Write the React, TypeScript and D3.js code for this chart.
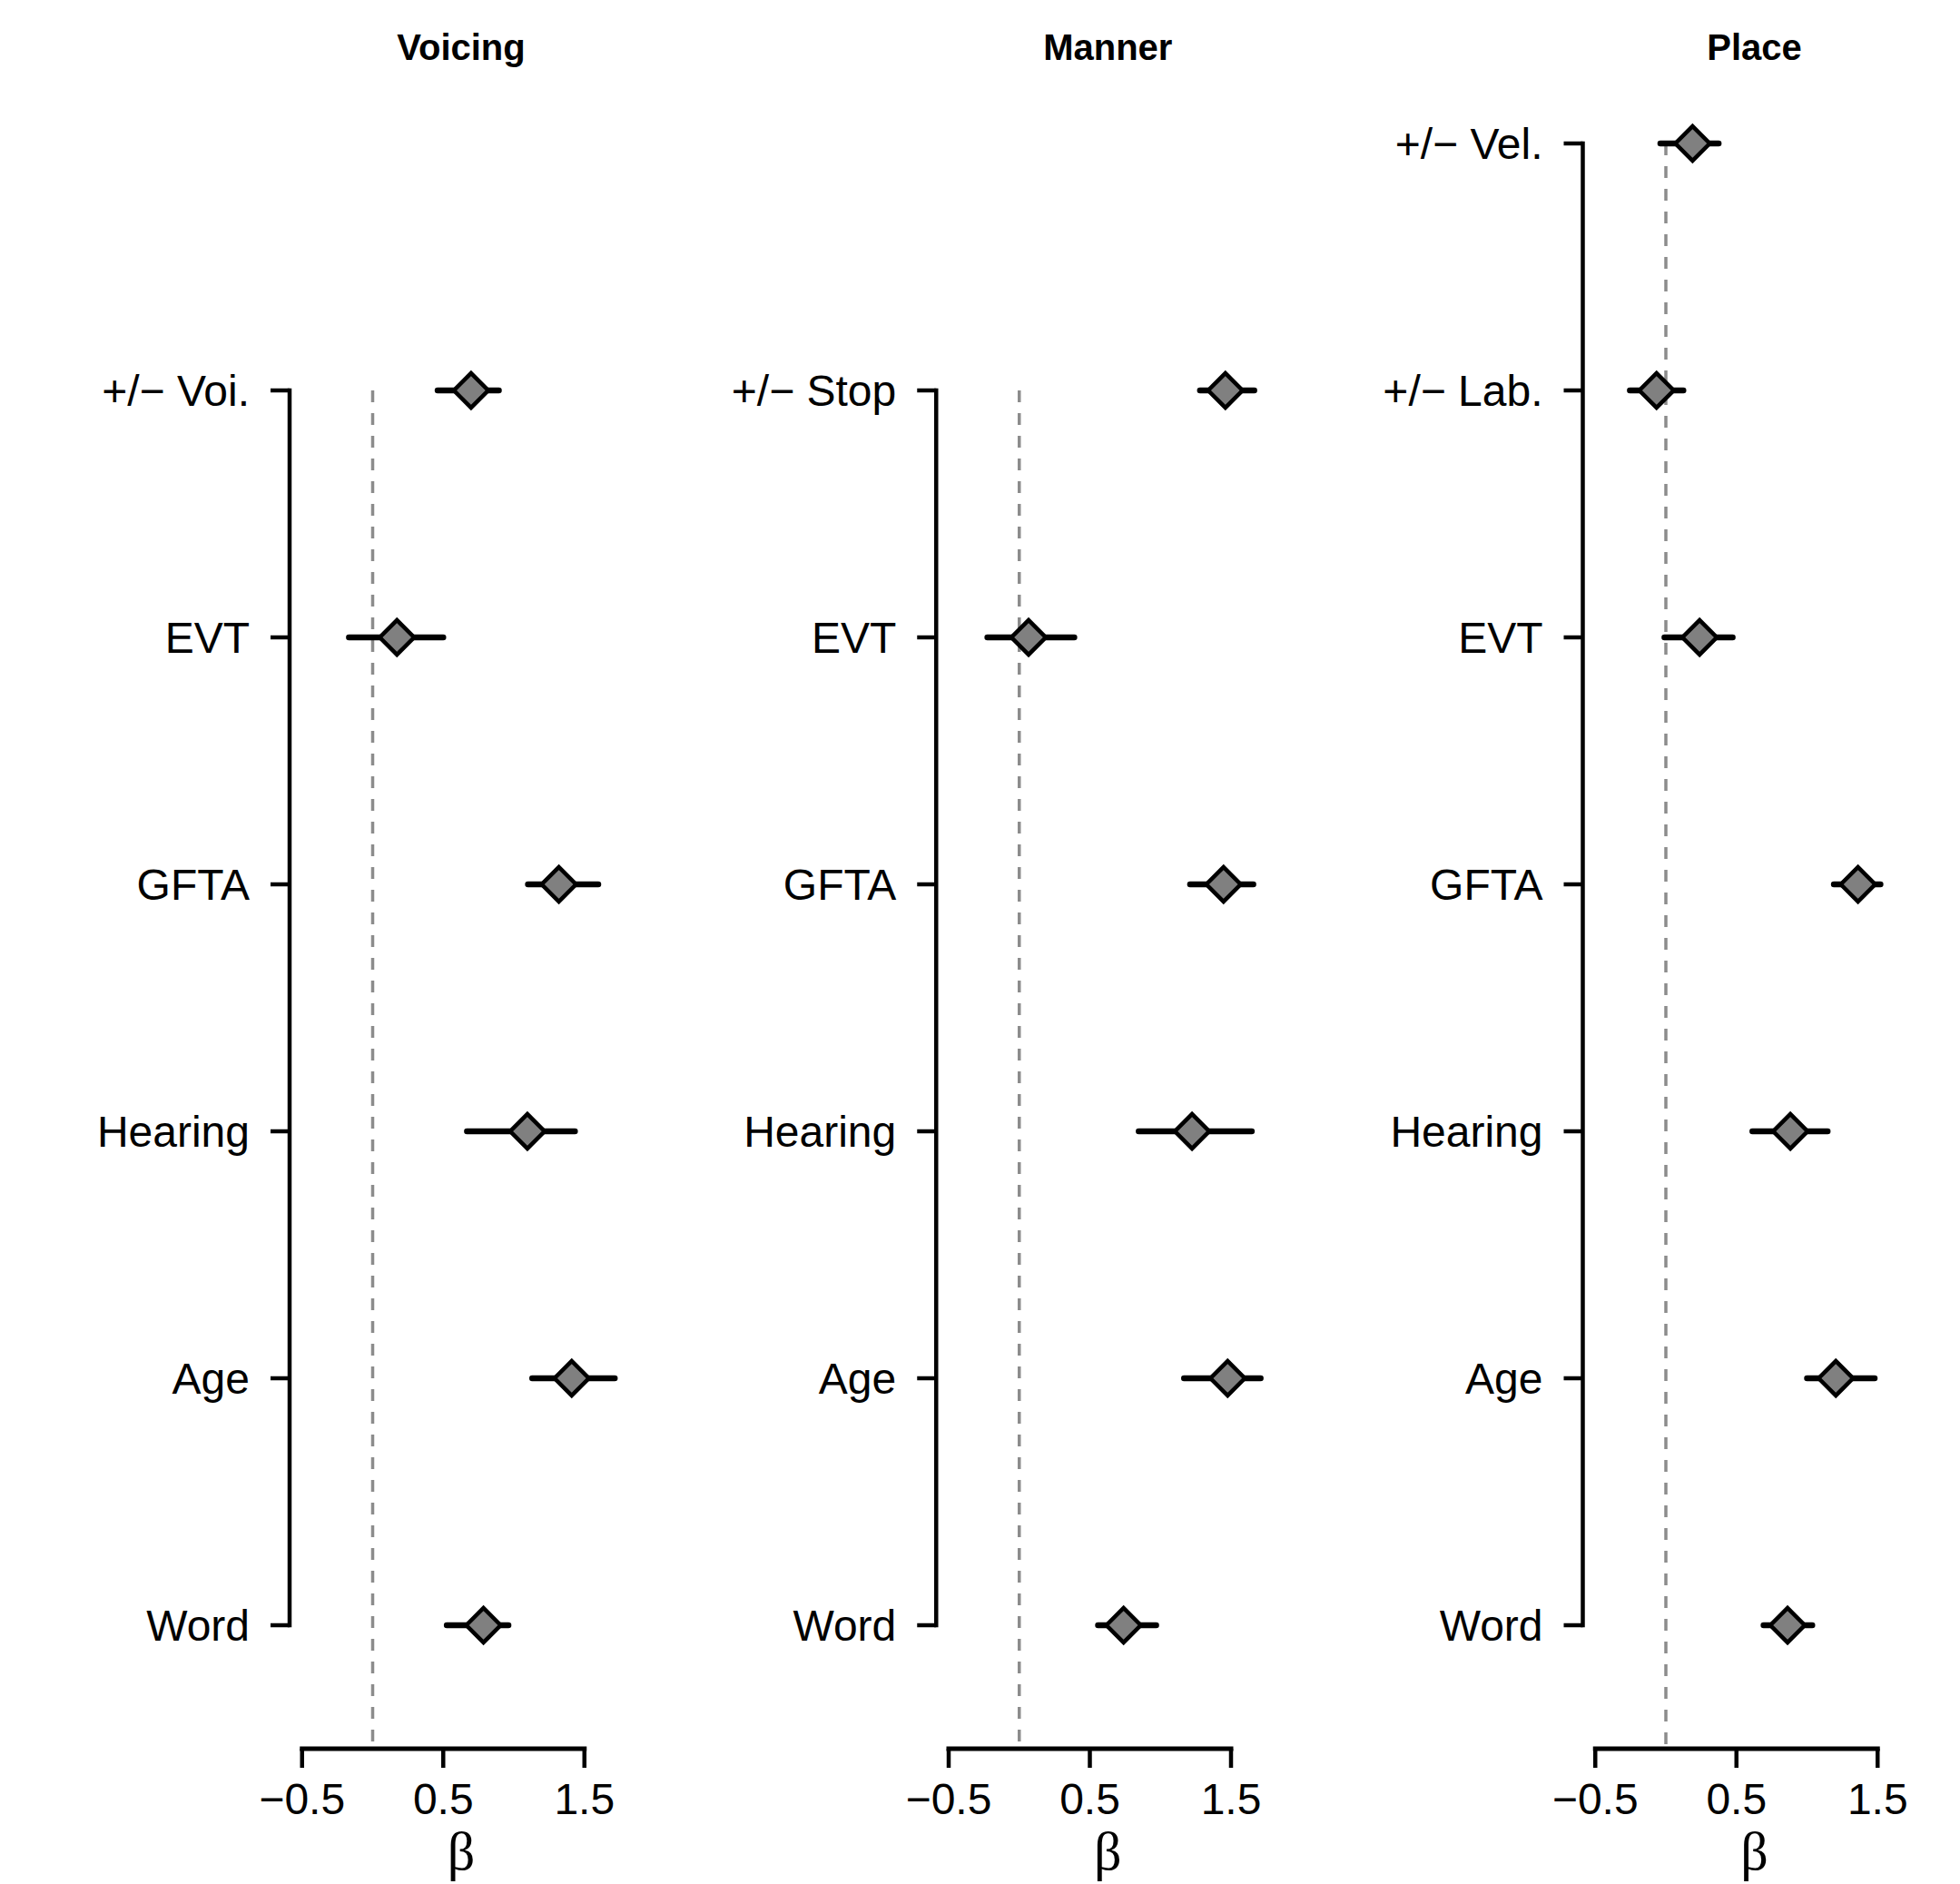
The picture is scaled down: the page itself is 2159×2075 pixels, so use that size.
import React from 'react';
import * as d3 from 'd3';

// panel titles
const panelTitles = ['Voicing', 'Manner', 'Place'];

// rows listed bottom to top
const voicingLabels = ['Word', 'Age', 'Hearing', 'GFTA', 'EVT', '+/\u2212 Voi.'];
const voicingEst = [0.785, 1.41, 1.096, 1.319, 0.172, 0.697];
const voicingLo = [0.525, 1.13, 0.668, 1.1, -0.168, 0.46];
const voicingHi = [0.962, 1.715, 1.433, 1.598, 0.5, 0.894];

const mannerLabels = ['Word', 'Age', 'Hearing', 'GFTA', 'EVT', '+/\u2212 Stop'];
const mannerEst = [0.739, 1.476, 1.224, 1.447, 0.066, 1.46];
const mannerLo = [0.558, 1.167, 0.846, 1.21, -0.226, 1.28];
const mannerHi = [0.97, 1.71, 1.647, 1.658, 0.39, 1.665];

const placeLabels = ['Word', 'Age', 'Hearing', 'GFTA', 'EVT', '+/\u2212 Lab.', '+/\u2212 Vel.'];
const placeEst = [0.862, 1.204, 0.882, 1.361, 0.239, -0.066, 0.189];
const placeLo = [0.692, 1.0, 0.613, 1.19, -0.01, -0.255, -0.039];
const placeHi = [1.037, 1.479, 1.146, 1.52, 0.473, 0.124, 0.374];

const xTicks = [-0.5, 0.5, 1.5];
const xDomain = [-0.5, 1.5];

const W = 2159;
const H = 2075;
const font = '"Liberation Sans", Arial, Helvetica, sans-serif';

const panelStep = 712.25;
const xAxisY = 1926;
const y = d3.scaleLinear().domain([0, 6]).range([1790, 158]);

const fmt = (v: number) => d3.format('.1f')(v).replace('-', '\u2212');

const diamond = d3.symbol().type(d3.symbolSquare).size(720)();

type Panel = { title: string; labels: string[]; est: number[]; lo: number[]; hi: number[] };

const panels: Panel[] = [
  { title: panelTitles[0], labels: voicingLabels, est: voicingEst, lo: voicingLo, hi: voicingHi },
  { title: panelTitles[1], labels: mannerLabels, est: mannerEst, lo: mannerLo, hi: mannerHi },
  { title: panelTitles[2], labels: placeLabels, est: placeEst, lo: placeLo, hi: placeHi },
];

function PanelView({ p, k }: { p: Panel; k: number }) {
  const off = panelStep * k;
  const x = d3.scaleLinear().domain(xDomain).range([332.75 + off, 643.75 + off]);
  const axisX = 319 + off;
  const center = 508 + off;
  const n = p.labels.length;
  const topY = y(n - 1);

  return (
    <g>
      <text x={center} y={66} textAnchor="middle" fontFamily={font} fontWeight="bold" fontSize={40}>
        {p.title}
      </text>

      {/* zero reference */}
      <line x1={x(0)} x2={x(0)} y1={topY} y2={xAxisY} stroke="#8c8c8c" strokeWidth={3.5} strokeDasharray="13,12" />

      {/* y axis */}
      <line x1={axisX} x2={axisX} y1={topY} y2={y(0)} stroke="#000" strokeWidth={4.5} strokeLinecap="square" />
      {p.labels.map((lab, i) => (
        <g key={lab}>
          <line x1={axisX - 21} x2={axisX} y1={y(i)} y2={y(i)} stroke="#000" strokeWidth={4.5} />
          <text x={axisX - 44} y={y(i)} dy="0.36em" textAnchor="end" fontFamily={font} fontSize={48}>
            {lab}
          </text>
        </g>
      ))}

      {/* x axis */}
      <line x1={x(xDomain[0])} x2={x(xDomain[1])} y1={xAxisY} y2={xAxisY} stroke="#000" strokeWidth={5} strokeLinecap="square" />
      {xTicks.map((t) => (
        <g key={t}>
          <line x1={x(t)} x2={x(t)} y1={xAxisY} y2={xAxisY + 21} stroke="#000" strokeWidth={4.5} />
          <text x={x(t)} y={1998} textAnchor="middle" fontFamily={font} fontSize={48}>
            {fmt(t)}
          </text>
        </g>
      ))}
      <text x={center} y={2059} textAnchor="middle" fontFamily='"Liberation Serif", "Times New Roman", serif' fontSize={60}>
        β
      </text>

      {/* estimates */}
      {p.est.map((e, i) => (
        <g key={i}>
          <line x1={x(p.lo[i])} x2={x(p.hi[i])} y1={y(i)} y2={y(i)} stroke="#000" strokeWidth={6.5} strokeLinecap="round" />
          <path d={diamond} transform={`translate(${x(e)},${y(i)}) rotate(45)`} fill="#808080" stroke="#000" strokeWidth={4.5} strokeLinejoin="miter" />
        </g>
      ))}
    </g>
  );
}

export default function App() {
  return (
    <svg width={W} height={H} style={{ position: 'absolute', left: 0, top: 0, background: '#fff' }}>
      <rect width={W} height={H} fill="#fff" />
      {panels.map((p, k) => (
        <PanelView key={p.title} p={p} k={k} />
      ))}
    </svg>
  );
}
